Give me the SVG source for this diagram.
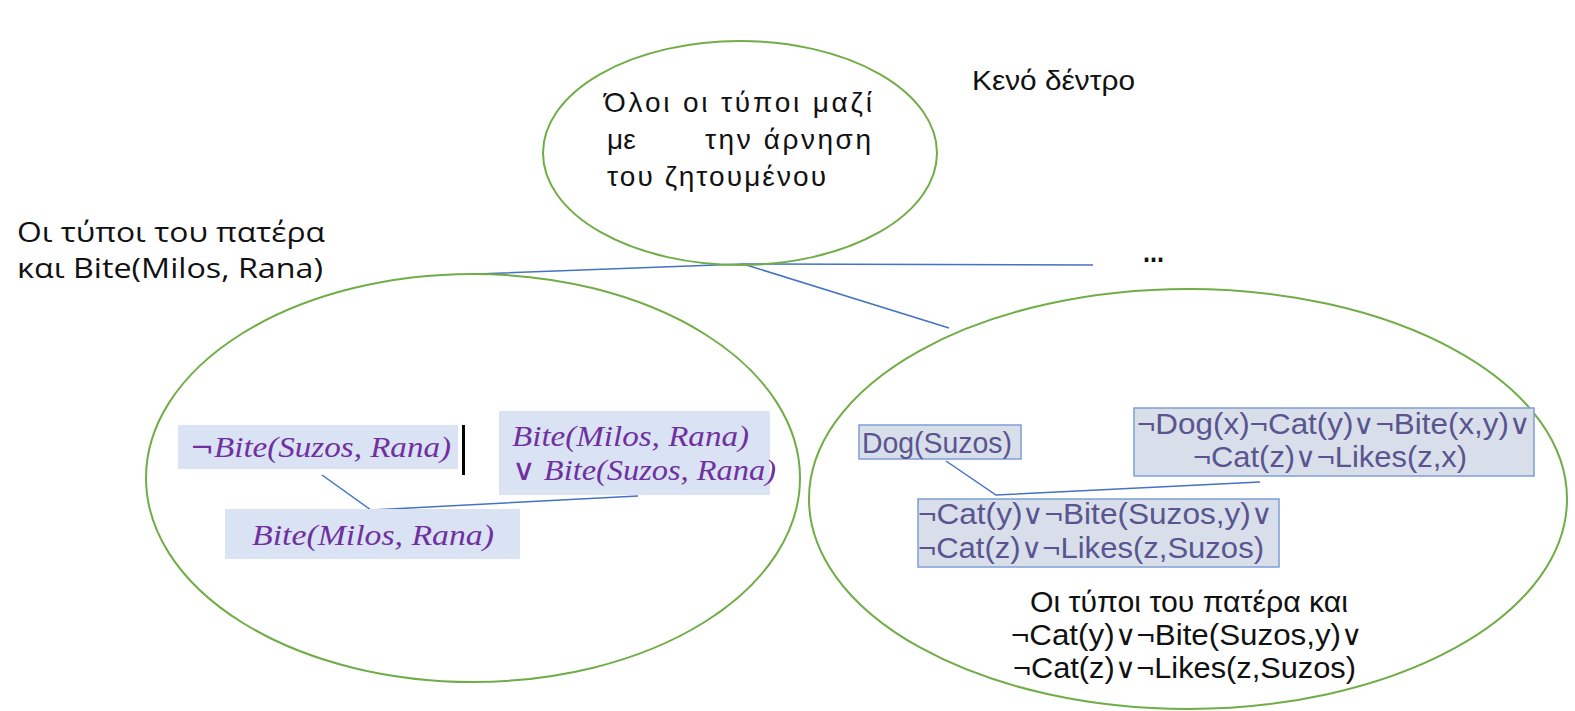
<svg xmlns="http://www.w3.org/2000/svg" width="1575" height="711" viewBox="0 0 1575 711">
<style>
.ell{fill:none;stroke:#70AD47;stroke-width:2}
.con{fill:none;stroke:#4472C4;stroke-width:1.5}
.mbox{fill:#DAE3F3}
.rbox{fill:#D8DFEA;stroke:#7F9FD3;stroke-width:1.5}
.math{font-family:"Liberation Serif",serif;font-style:italic;fill:#7030A0;font-size:30px}
.up{font-style:normal;font-family:"DejaVu Sans",sans-serif;font-size:26px}
.vee{font-style:normal;font-family:"DejaVu Sans",sans-serif;font-size:30px;font-weight:200}
.rt{font-family:"Liberation Sans",Arial,sans-serif;fill:#5A5590;font-size:30px}
.bt{font-family:"Liberation Sans",Arial,sans-serif;fill:#111;font-size:30px}
.gr{font-family:"Liberation Sans",Arial,sans-serif;fill:#111;font-size:28px}
.os{font-family:"Open Sans","Noto Sans",sans-serif;fill:#111;font-size:28px}
.or{font-family:"DejaVu Sans",sans-serif;font-size:28px;font-weight:200}
</style>
<rect width="1575" height="711" fill="#fff"/>
<g id="connectors">
<path class="con" d="M477 274 L743 264 L1093 265"/>
<path class="con" d="M743 264 L949 328"/>
<path class="con" d="M322 475 L371 510 L638 496"/>
<path class="con" d="M946 461 L996 495 L1260 482"/>
</g>
<g id="root">
<ellipse class="ell" cx="740" cy="153" rx="197" ry="112"/>
<text class="gr" x="604" y="112" textLength="268" lengthAdjust="spacing">Όλοι οι τύποι μαζί</text>
<text class="gr" x="607" y="149">με</text>
<text class="gr" x="705" y="149" textLength="166" lengthAdjust="spacing">την άρνηση</text>
<text class="gr" x="607" y="186" textLength="219" lengthAdjust="spacing">του ζητουμένου</text>
</g>
<g id="label-empty">
<text class="gr" x="972" y="90" textLength="163" lengthAdjust="spacingAndGlyphs">Κενό δέντρο</text>
</g>
<g id="label-left">
<text class="os" x="17" y="242" textLength="308" lengthAdjust="spacingAndGlyphs">Οι τύποι του πατέρα</text>
<text class="os" x="17" y="278" textLength="306" lengthAdjust="spacingAndGlyphs">και Bite(Milos, Rana)</text>
</g>
<g id="label-dots">
<text class="bt" x="1143" y="262" font-size="24" font-weight="bold" textLength="21" lengthAdjust="spacingAndGlyphs">...</text>
</g>
<g id="left-node">
<ellipse class="ell" cx="473" cy="478" rx="327" ry="204"/>
</g>
<g id="left-clause1">
<rect class="mbox" x="178" y="425" width="280" height="44"/>
<text class="math" x="190" y="457" textLength="261" lengthAdjust="spacingAndGlyphs"><tspan class="up">¬</tspan>Bite(Suzos, Rana)</text>
<rect x="462" y="425" width="3" height="50" fill="#000"/>
</g>
<g id="left-clause2">
<rect class="mbox" x="499" y="411" width="271" height="84"/>
<text class="math" x="512" y="446" textLength="237" lengthAdjust="spacingAndGlyphs">Bite(Milos, Rana)</text>
<text class="math" x="512" y="480" textLength="264" lengthAdjust="spacingAndGlyphs"><tspan class="vee">∨</tspan> Bite(Suzos, Rana)</text>
</g>
<g id="left-resolvent">
<rect class="mbox" x="225" y="509" width="295" height="50"/>
<text class="math" x="252" y="545" textLength="242" lengthAdjust="spacingAndGlyphs">Bite(Milos, Rana)</text>
</g>
<g id="right-node">
<ellipse class="ell" cx="1188" cy="499" rx="379" ry="210"/>
<text class="bt" x="1030" y="612" textLength="318" lengthAdjust="spacingAndGlyphs">Οι τύποι του πατέρα και</text>
<text class="bt" x="1011" y="645" textLength="352" lengthAdjust="spacingAndGlyphs">¬Cat(y)<tspan class="or">∨</tspan>¬Bite(Suzos,y)<tspan class="or">∨</tspan></text>
<text class="bt" x="1013" y="678" textLength="343" lengthAdjust="spacingAndGlyphs">¬Cat(z)<tspan class="or">∨</tspan>¬Likes(z,Suzos)</text>
</g>
<g id="right-clause1">
<rect class="rbox" x="859" y="425" width="162" height="34"/>
<text class="rt" x="862" y="453" textLength="150" lengthAdjust="spacingAndGlyphs">Dog(Suzos)</text>
</g>
<g id="right-clause2">
<rect class="rbox" x="1134" y="408" width="400" height="68"/>
<text class="rt" x="1137" y="434" textLength="394" lengthAdjust="spacingAndGlyphs">¬Dog(x)¬Cat(y)<tspan class="or">∨</tspan>¬Bite(x,y)<tspan class="or">∨</tspan></text>
<text class="rt" x="1193" y="467" textLength="274" lengthAdjust="spacingAndGlyphs">¬Cat(z)<tspan class="or">∨</tspan>¬Likes(z,x)</text>
</g>
<g id="right-resolvent">
<rect class="rbox" x="918" y="499" width="361" height="68"/>
<text class="rt" x="918" y="524" textLength="355" lengthAdjust="spacingAndGlyphs">¬Cat(y)<tspan class="or">∨</tspan>¬Bite(Suzos,y)<tspan class="or">∨</tspan></text>
<text class="rt" x="918" y="558" textLength="346" lengthAdjust="spacingAndGlyphs">¬Cat(z)<tspan class="or">∨</tspan>¬Likes(z,Suzos)</text>
</g>
</svg>
